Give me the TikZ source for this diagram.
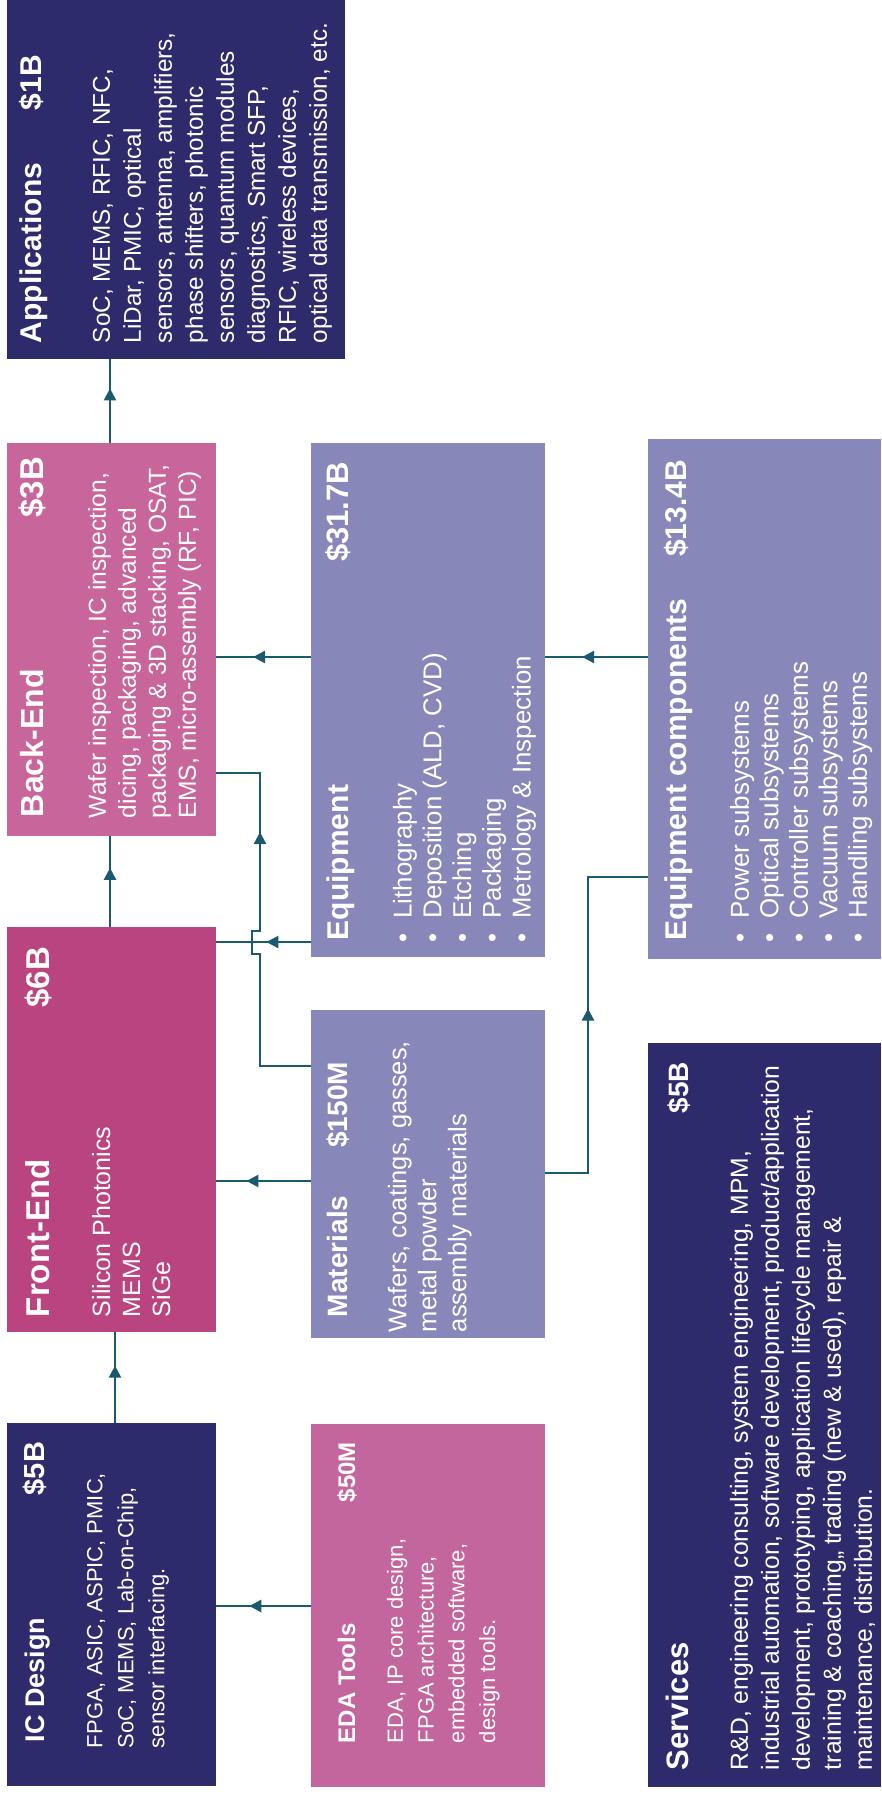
\documentclass[tikz,border=0pt]{standalone}
\usepackage{fontspec}
\setmainfont{Liberation Sans}
\usetikzlibrary{arrows.meta,decorations.markings}
\definecolor{navybox}{HTML}{2D2B6B}
\definecolor{bepink}{HTML}{C8659B}
\definecolor{fepink}{HTML}{B94480}
\definecolor{edapink}{HTML}{C4669E}
\definecolor{lavbox}{HTML}{8887B9}
\definecolor{linkteal}{HTML}{1B5A6E}
\begin{document}
\begin{tikzpicture}[x=1pt,y=-1pt,
  box/.style={rectangle, draw=none, inner sep=0pt, outer sep=0pt, anchor=north west},
  ttl/.style={text=white, inner sep=0pt, outer sep=0pt, rotate=90, font=\bfseries\fontsize{#1}{#1}\selectfont},
  bodytext/.style 2 args={text=white, inner sep=0pt, outer sep=0pt, rotate=90, anchor=north west, align=left, font=\fontsize{#1}{#2}\selectfont},
  conn/.style={draw=linkteal, line width=2.4pt},
  arr/.style={postaction={decorate}, decoration={markings, mark=at position #1 with {\arrow{Triangle[length=12pt,width=12pt]}}}}
]
\useasboundingbox[fill=white] (0,0) rectangle (881,1796);

% boxes
\node[box, fill=navybox, minimum width=338pt, minimum height=359pt] (app) at (7,0) {};
\node[box, fill=bepink, minimum width=209pt, minimum height=393pt] (be) at (7,443) {};
\node[box, fill=fepink, minimum width=209pt, minimum height=405pt] (fe) at (7,927) {};
\node[box, fill=navybox, minimum width=209pt, minimum height=363pt] (icd) at (7,1423) {};
\node[box, fill=lavbox, minimum width=234pt, minimum height=514pt] (eq) at (311,443) {};
\node[box, fill=lavbox, minimum width=234pt, minimum height=328pt] (mat) at (311,1010) {};
\node[box, fill=edapink, minimum width=234pt, minimum height=363pt] (eda) at (311,1424) {};
\node[box, fill=lavbox, minimum width=233pt, minimum height=520pt] (eqc) at (648,439) {};
\node[box, fill=navybox, minimum width=233pt, minimum height=744pt] (srv) at (648,1043) {};

% guide coordinates
\coordinate (cA) at (115,0);
\coordinate (cB) at (110,0);
\coordinate (rA) at (0,1606);
\coordinate (rB) at (0,657);
\coordinate (rC) at (0,942);
\coordinate (rD) at (0,1181);
\coordinate (rE) at (0,1066);
\coordinate (rF) at (0,773);
\coordinate (rG) at (0,1173);
\coordinate (rH) at (0,877);

% connectors
\draw[conn, arr=0.63] (icd.north -| cA) -- (fe.south -| cA);
\draw[conn, arr=0.65] (eda.west |- rA) -- (icd.east |- rA);
\draw[conn, arr=0.65] (fe.north -| cB) -- (be.south -| cB);
\draw[conn, arr=0.65] (be.north -| cB) -- (app.south -| cB);
\draw[conn, arr=0.61] (eq.west |- rB) -- (be.east |- rB);
\draw[conn, arr=0.47] (eq.west |- rC) -- (fe.east |- rC);
\draw[conn, arr=0.68] (mat.west |- rD) -- (fe.east |- rD);
\draw[conn, arr=0.64] (eqc.west |- rB) -- (eq.east |- rB);
\draw[conn, arr=0.745] (mat.west |- rE) -- (260,1066) -- (260,954) -- (252,954) -- (252,931) -- (260,931) -- (260,773) -- (be.east |- rF);
\draw[conn, arr=0.52] (mat.east |- rG) -- (588,1173) -- (588,877) -- (eqc.west |- rH);

% Applications
\node[ttl=30, anchor=base west] (tApp) at (41.5,343) {Applications};
\node[ttl=30, anchor=base east] (vApp) at (41.5,55) {\$1B};
\node[bodytext={24.3}{31}] (bApp) at (93,343) {SoC, MEMS, RFIC, NFC,\\LiDar, PMIC, optical\\sensors, antenna, amplifiers,\\phase shifters, photonic\\sensors, quantum modules\\diagnostics, Smart SFP,\\RFIC, wireless devices,\\optical data transmission, etc.};

% Back-End
\node[ttl=32, anchor=base west] (tBe) at (43,817) {Back-End};
\node[ttl=33, anchor=base east] (vBe) at (43,457) {\$3B};
\node[bodytext={24.6}{30}] (bBe) at (88,818) {Wafer inspection, IC inspection,\\dicing, packaging, advanced\\packaging \& 3D stacking, OSAT,\\EMS, micro-assembly (RF, PIC)};

% Front-End
\node[ttl=33, anchor=base west] (tFe) at (49,1317) {Front-End};
\node[ttl=33, anchor=base east] (vFe) at (49,947) {\$6B};
\node[bodytext={25}{30}] (bFe) at (92,1317) {Silicon Photonics\\MEMS\\SiGe};

% IC Design
\node[ttl=27, anchor=base west] (tIcd) at (44,1742) {IC Design};
\node[ttl=29, anchor=base east] (vIcd) at (44,1442) {\$5B};
\node[bodytext={22}{31}] (bIcd) at (87,1748) {FPGA, ASIC, ASPIC, PMIC,\\SoC, MEMS, Lab-on-Chip,\\sensor interfacing.};

% EDA Tools
\node[ttl=24, anchor=base west] (tEda) at (355,1743) {EDA Tools};
\node[ttl=24, anchor=base east] (vEda) at (355,1442) {\$50M};
\node[bodytext={22}{30.7}] (bEda) at (387,1743) {EDA, IP core design,\\FPGA architecture,\\embedded software,\\design tools.};

% Equipment
\node[ttl=30, anchor=base west] (tEq) at (348,940) {Equipment};
\node[ttl=31, anchor=base east] (vEq) at (348,462) {\$31.7B};
\node[bodytext={25.8}{29.7}] (bEq) at (393,942.5) {\makebox[24pt][l]{\textbullet}Lithography\\\makebox[24pt][l]{\textbullet}Deposition (ALD, CVD)\\\makebox[24pt][l]{\textbullet}Etching\\\makebox[24pt][l]{\textbullet}Packaging\\\makebox[24pt][l]{\textbullet}Metrology \& Inspection};

% Materials
\node[ttl=28, anchor=base west] (tMat) at (347,1317) {Materials};
\node[ttl=28, anchor=base east] (vMat) at (347,1062) {\$150M};
\node[bodytext={25.5}{30}] (bMat) at (388,1332) {Wafers, coatings, gasses,\\metal powder\\assembly materials};

% Equipment components
\node[ttl=30, anchor=base west] (tEqc) at (686,940) {Equipment components};
\node[ttl=30, anchor=base east] (vEqc) at (686,460) {\$13.4B};
\node[bodytext={26}{29.5}] (bEqc) at (730,942.5) {\makebox[24pt][l]{\textbullet}Power subsystems\\\makebox[24pt][l]{\textbullet}Optical subsystems\\\makebox[24pt][l]{\textbullet}Controller subsystems\\\makebox[24pt][l]{\textbullet}Vacuum subsystems\\\makebox[24pt][l]{\textbullet}Handling subsystems};

% Services
\node[ttl=31, anchor=base west] (tSrv) at (688,1770) {Services};
\node[ttl=28, anchor=base east] (vSrv) at (688,1062) {\$5B};
\node[bodytext={24.7}{31}] (bSrv) at (730,1770) {R\&D, engineering consulting, system engineering, MPM,\\industrial automation, software development, product/application\\development, prototyping, application lifecycle management,\\training \& coaching,, trading (new \& used), repair \&\\maintenance, distribution.};

\end{tikzpicture}
\end{document}
